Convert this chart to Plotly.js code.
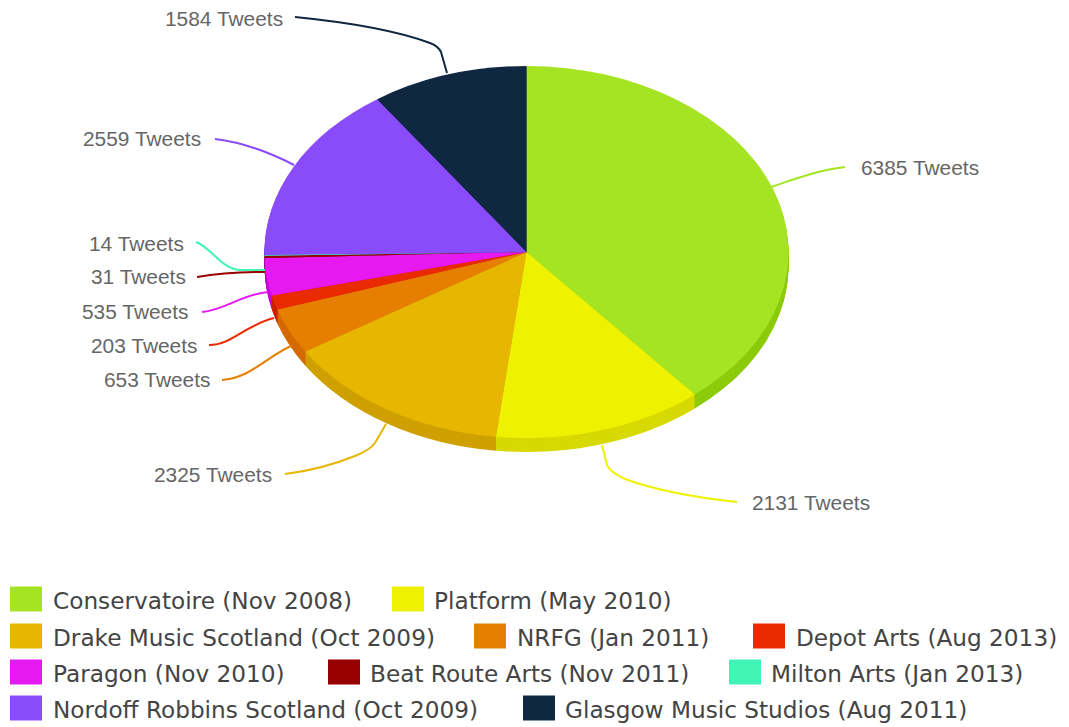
<!DOCTYPE html>
<html>
<head>
<meta charset="utf-8">
<script src="https://cdn.plot.ly/plotly-3.0.1.min.js"></script>
<style>html,body{margin:0;padding:0;background:#fff}#chart{width:1069px;height:727px}</style>
</head>
<body>
<div id="chart"></div>
<script>
// Tweets per organisation, with the month each account started
const organisations = ["Conservatoire", "Platform", "Drake Music Scotland", "NRFG", "Depot Arts", "Paragon", "Beat Route Arts", "Milton Arts", "Nordoff Robbins Scotland", "Glasgow Music Studios"];
const started = ["Nov 2008", "May 2010", "Oct 2009", "Jan 2011", "Aug 2013", "Nov 2010", "Nov 2011", "Jan 2013", "Oct 2009", "Aug 2011"];
const tweets = [6385, 2131, 2325, 653, 203, 535, 31, 14, 2559, 1584];
const topColours = ["#A5E423", "#EEF200", "#E6B600", "#E67E00", "#EA2A00", "#E619F0", "#990000", "#42F5B7", "#8A4BFA", "#0F2740"];
const rimColours = ["#8CCB0A", "#D7D900", "#CFA000", "#D56A00", "#D02000", "#C800D8", "#800000", "#30DCA0", "#7236E0", "#0A1C30"];

const W = 1069, H = 727;
const CX = 526.5, CY = 252, RX = 262, RY = 186, RIM = 14;

// Pixel placement of the value labels and their leader curves, in slice order
const calloutAnchors = [
  {x: 861, y: 167, side: "left"},
  {x: 752, y: 502, side: "left"},
  {x: 272, y: 474, side: "right"},
  {x: 210, y: 379, side: "right"},
  {x: 197, y: 345, side: "right"},
  {x: 188, y: 311, side: "right"},
  {x: 186, y: 277, side: "right"},
  {x: 184, y: 244, side: "right"},
  {x: 201, y: 139, side: "right"},
  {x: 283, y: 18, side: "right"}
];
const leaderPaths = [
  "M771,187 C800,177 820,170 845,167",
  "M602,445 L607,465 Q610,472 625,479 C660,492 700,498 737,502",
  "M386,424 L375,443 Q370,450 355,456 C330,466 310,471 285,474",
  "M291,346 C265,358 250,378 222,380",
  "M274,318 C245,325 232,345 209,345",
  "M268,292 C240,295 225,310 202,312",
  "M265,272 C240,272 220,273 197,277",
  "M265,270 L240,270 C220,268 212,248 196,242",
  "M294,165 C265,150 240,142 215,139",
  "M447,73 L441,52 Q438,46 430,43 C395,30 345,22 295,17"
];

// Legend rows: swatch left edge, label left edge and row index per organisation
const legendRows = [599, 636, 672, 708];
const legendSwatchX = [10, 392, 10, 474, 753, 10, 328, 729, 10, 523];
const legendTextX = [53, 434, 53, 517, 796, 53, 370, 771, 53, 565];
const legendRow = [0, 0, 1, 1, 1, 2, 2, 2, 3, 3];

const px = x => x / W;
const py = y => 1 - y / H;
const pathToPaper = d => d.replace(/(-?\d+(?:\.\d+)?),(-?\d+(?:\.\d+)?)/g, (m, x, y) => px(+x) + "," + py(+y));

// All pies share a domain centred on the canvas; they are flattened and placed after drawing
const domain = {
  x: [(CX - RX) / W, (CX + RX) / W],
  y: [py(H / 2 + RX), py(H / 2 - RX)]
};
const pie = colours => ({
  type: "pie",
  labels: organisations,
  values: tweets,
  sort: false,
  direction: "clockwise",
  rotation: 0,
  textinfo: "none",
  hoverinfo: "label+value",
  domain: domain,
  marker: {colors: colours, line: {width: 0}}
});

// One darker pie per pixel of disc thickness, then the top face
const traces = [];
for (let depth = RIM; depth >= 1; depth--) traces.push(pie(rimColours));
traces.push(pie(topColours));

const annotationBase = {
  xref: "paper", yref: "paper", yanchor: "middle",
  showarrow: false, borderpad: 0, borderwidth: 0
};
const annotations = tweets.map((v, i) => Object.assign({}, annotationBase, {
  x: px(calloutAnchors[i].x), y: py(calloutAnchors[i].y),
  xanchor: calloutAnchors[i].side,
  text: v + " Tweets",
  font: {family: "Liberation Sans, Arial, sans-serif", size: 20.9, color: "#666666"}
})).concat(organisations.map((name, i) => Object.assign({}, annotationBase, {
  x: px(legendTextX[i]), y: py(legendRows[legendRow[i]] + 1),
  xanchor: "left",
  text: name + " (" + started[i] + ")",
  font: {family: "DejaVu Sans, sans-serif", size: 23.2, color: "#444444"}
})));

const shapes = leaderPaths.map((d, i) => ({
  type: "path", xref: "paper", yref: "paper", path: pathToPaper(d),
  line: {color: topColours[i], width: 2}
})).concat(organisations.map((name, i) => {
  const cy = legendRows[legendRow[i]];
  return {
    type: "rect", xref: "paper", yref: "paper",
    x0: px(legendSwatchX[i]), x1: px(legendSwatchX[i] + 32),
    y0: py(cy + 12.5), y1: py(cy - 12.5),
    fillcolor: topColours[i], line: {width: 0}
  };
}));

const layout = {
  width: W, height: H,
  margin: {l: 0, r: 0, t: 0, b: 0},
  paper_bgcolor: "#ffffff",
  showlegend: false,
  annotations: annotations,
  shapes: shapes
};

// Turns the round pies into a tilted disc, stacking the rim layers below the top face
function tiltPies() {
  const squash = RY / RX;
  const groups = document.querySelectorAll("#chart .pielayer .trace");
  groups.forEach((g, i) => {
    const y = CY + (groups.length - 1 - i);
    g.setAttribute("transform", "translate(0," + y + ") scale(1," + squash + ") translate(0," + (-H / 2) + ")");
  });
}

Plotly.newPlot("chart", traces, layout, {displayModeBar: false}).then(tiltPies);
</script>
</body>
</html>
